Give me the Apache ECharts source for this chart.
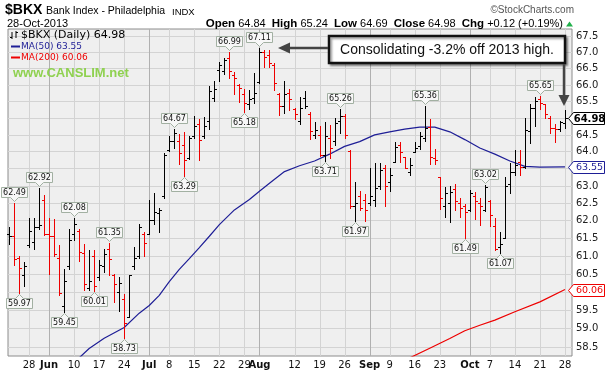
<!DOCTYPE html>
<html>
<head>
<meta charset="utf-8">
<script src="https://cdn.jsdelivr.net/npm/echarts@6/dist/echarts.min.js"></script>
<style>
  html, body { margin: 0; padding: 0; background: #fff; }
  #chart { width: 608px; height: 376px; }
</style>
</head>
<body>
<div id="chart"></div>
<script>
// daily bars, 21-May-2013 .. 28-Oct-2013 (index = trading day)
var opens = [61.60,61.55,60.93,60.45,61.30,61.40,61.80,62.60,61.60,61.55,
  60.95,59.60,60.70,61.60,61.70,61.08,60.10,61.00,60.40,60.70,
  61.20,60.45,60.00,59.80,59.30,60.70,61.00,61.60,61.60,62.00,
  62.20,62.70,64.05,64.30,64.30,64.20,63.80,64.45,64.80,64.45,
  64.90,65.60,66.45,66.40,66.80,66.30,66.00,65.70,65.40,65.60,
  66.07,67.00,66.90,66.60,65.72,65.35,65.75,65.25,64.90,65.60,
  65.10,64.50,64.50,63.90,64.40,64.30,64.90,65.05,64.00,62.40,
  62.70,62.60,62.50,62.60,63.00,63.50,63.10,63.70,64.20,63.85,
  63.40,63.98,64.15,64.40,64.73,63.80,63.25,62.40,62.50,62.90,
  62.50,62.40,62.30,62.70,62.50,62.30,62.55,61.85,61.25,61.50,
  63.05,63.40,63.70,63.55,64.60,65.30,65.55,65.40,65.00,64.70,
  64.65,64.84];
var highs = [61.82,62.49,61.00,60.83,62.07,62.07,62.92,62.72,62.07,62.05,
  61.31,60.64,61.75,62.08,61.75,61.33,61.15,61.15,60.88,61.20,
  61.35,60.50,60.41,59.93,60.47,61.25,61.90,61.68,62.60,62.78,
  62.35,63.94,64.45,64.67,64.52,64.58,64.47,65.04,64.95,65.02,
  65.95,66.10,66.70,66.80,66.99,66.38,66.03,65.87,65.85,66.35,
  67.11,67.06,67.06,66.65,65.75,66.12,65.87,65.30,65.63,65.80,
  65.18,64.86,64.75,64.86,64.78,64.98,65.26,65.10,64.05,63.10,
  62.85,62.75,63.50,63.65,63.65,63.60,63.50,64.28,64.28,63.85,
  63.80,64.28,64.58,65.36,64.95,64.08,63.25,62.97,63.00,63.05,
  62.65,62.48,62.88,62.83,62.65,63.02,62.60,62.08,61.68,63.25,
  63.65,64.03,64.03,64.98,65.40,65.62,65.65,65.40,65.05,64.82,
  64.90,65.24];
var lows = [61.34,60.74,59.97,60.17,61.25,61.20,61.77,61.58,60.49,60.99,
  59.92,59.45,60.64,61.45,60.85,60.06,60.06,60.01,60.33,60.55,
  60.47,59.72,59.48,58.73,59.30,60.64,60.93,60.98,61.60,61.90,
  61.67,62.64,64.00,64.10,63.63,63.29,63.77,64.40,63.75,64.40,
  64.67,65.50,66.10,66.33,66.20,65.72,65.48,65.18,65.27,65.45,
  66.05,66.54,66.55,65.85,65.08,65.15,65.22,64.95,64.80,65.30,
  64.36,64.40,63.86,63.71,63.80,64.20,64.54,64.40,62.35,61.97,
  62.30,61.98,62.45,62.40,62.90,62.40,62.85,63.70,63.70,63.50,
  63.30,63.98,64.08,64.30,63.62,63.62,62.33,62.10,61.95,62.30,
  62.10,61.49,62.27,62.03,61.87,62.27,61.85,61.15,61.07,61.50,
  62.80,63.30,63.30,63.50,64.25,64.75,65.25,65.00,64.54,64.28,
  64.60,64.69];
var closes = [61.55,60.92,60.65,60.70,61.70,61.80,61.88,61.60,61.55,61.05,
  59.97,60.30,61.45,61.90,61.10,60.22,60.30,60.15,60.74,61.05,
  60.90,60.20,60.25,59.13,60.45,60.93,61.80,61.35,62.00,62.25,
  62.30,63.90,64.30,64.55,63.95,63.75,64.40,64.75,64.35,64.75,
  65.80,65.88,66.60,66.75,66.40,66.20,65.90,65.45,65.55,65.75,
  67.00,66.85,66.65,66.05,65.35,65.70,65.55,65.10,65.30,65.35,
  64.60,64.62,63.90,64.45,64.10,64.85,65.05,64.50,62.40,62.50,
  62.35,62.30,62.70,62.93,63.45,63.00,63.30,64.13,63.98,63.50,
  63.60,64.10,64.46,64.68,63.85,63.75,62.65,62.80,62.82,62.55,
  62.35,62.25,62.80,62.55,62.40,62.95,62.15,61.20,61.33,63.00,
  63.40,63.60,63.55,64.62,65.30,65.50,65.45,65.10,64.68,64.65,
  64.86,64.98];

// moving averages (bar index, value)
var ma50Idx = [14,16,19,23,26,28,30,32,34,36,38,40,42,45,48,50,52,55,58,61,64,67,70,73,76,79,82,85,88,91,94,97,100,103,106,111];
var ma50Val = [58.20,58.45,58.73,59.02,59.41,59.62,59.90,60.28,60.62,60.92,61.23,61.55,61.88,62.30,62.60,62.84,63.07,63.41,63.58,63.72,63.92,64.15,64.29,64.49,64.58,64.66,64.72,64.72,64.58,64.35,64.10,63.92,63.72,63.56,63.54,63.55];
var ma200Idx = [80,84,88,91,94,97,101,106,111];
var ma200Val = [58.20,58.46,58.72,58.93,59.08,59.22,59.45,59.72,60.06];

// x axis labels
var tickIdx = [4,8,13,18,23,28,32,37,42,47,50,57,62,67,72,76,81,86,92,96,101,106,111];
var tickText = ['28','Jun','10','17','24','Jul','8','15','22','29','Aug','12','19','26','Sep','9','16','23','Oct','7','14','21','28'];
var monthIdx = [8,28,50,72,92];
var priceTicks = [58.5,59.0,59.5,60.0,60.5,61.0,61.5,62.0,62.5,63.0,63.5,64.0,64.5,65.0,65.5,66.0,66.5,67.0,67.5];

// bars that carry a high / low price flag
var peakIdx = [1,6,13,20,33,44,50,66,83,95,106];
var troughIdx = [2,11,17,23,35,47,63,69,91,98];

var X_MIN = -0.2, X_MAX = 112.4, Y_MIN = 58.25, Y_MAX = 67.71;
var FONT = 'DejaVu Sans';
var NAVY = '#1e1e96', RED = '#ee0000';

var ohlcData = closes.map(function (c, i) {
  var down = (i > 0 && c < closes[i - 1]) ? 1 : 0;
  return [i, opens[i], highs[i], lows[i], c, down];
});
var ma50Data = ma50Idx.map(function (d, k) { return [d, ma50Val[k]]; });
var ma200Data = ma200Idx.map(function (d, k) { return [d, ma200Val[k]]; });
var noteData = peakIdx.map(function (i) { return [i, highs[i], 1]; })
  .concat(troughIdx.map(function (i) { return [i, lows[i], 0]; }));
var last = closes.length - 1;
var tagData = [
  [X_MAX, closes[last], 0],
  [X_MAX, ma50Val[ma50Val.length - 1], 1],
  [X_MAX, ma200Val[ma200Val.length - 1], 2]
];

function renderHGrid(params, api) {
  var v = api.value(1);
  var a = api.coord([X_MIN, v]), b = api.coord([X_MAX, v]);
  var y = Math.round(a[1]) + 0.5;
  return {
    type: 'group',
    children: [
      { type: 'line', shape: { x1: a[0], y1: y, x2: b[0], y2: y }, style: { stroke: '#d3d3d3', lineWidth: 1 } },
      { type: 'text', x: b[0] + 4, y: y,
        style: { text: v.toFixed(1), fill: '#222', fontSize: 10, fontFamily: FONT,
                 align: 'left', verticalAlign: 'middle', textAlign: 'left', textVerticalAlign: 'middle' } }
    ]
  };
}

function renderVGrid(params, api) {
  var i = api.value(0);
  var a = api.coord([i, Y_MAX]), b = api.coord([i, Y_MIN]);
  var x = Math.round(a[0]) + 0.5;
  var isMonth = monthIdx.indexOf(i) >= 0;
  return { type: 'line', shape: { x1: x, y1: a[1], x2: x, y2: b[1] },
           style: { stroke: isMonth ? '#b0b0b0' : '#d3d3d3', lineWidth: 1 } };
}

function renderOHLC(params, api) {
  var i = api.value(0);
  var pO = api.coord([i, api.value(1)]);
  var pH = api.coord([i, api.value(2)]);
  var pL = api.coord([i, api.value(3)]);
  var pC = api.coord([i, api.value(4)]);
  var col = api.value(5) ? RED : '#000';
  var px = Math.round(pH[0]);
  var x = px + 0.5;
  var yo = Math.round(pO[1]) + 0.5, yc = Math.round(pC[1]) + 0.5;
  var st = { stroke: col, lineWidth: 1 };
  return {
    type: 'group',
    children: [
      { type: 'line', shape: { x1: x, y1: Math.round(pH[1]), x2: x, y2: Math.round(pL[1]) + 1 }, style: st },
      { type: 'line', shape: { x1: px - 2, y1: yo, x2: px, y2: yo }, style: st },
      { type: 'line', shape: { x1: px + 1, y1: yc, x2: px + 3, y2: yc }, style: st }
    ]
  };
}

function renderNote(params, api) {
  var i = api.value(0), v = api.value(1), up = api.value(2);
  var p = api.coord([i, v]);
  var x = Math.round(p[0]) + 0.5;
  var w = 26, h = 10, pw = 4, ph = 4;
  var tip, base, boxTop;
  if (up) {
    tip = Math.round(p[1]) - 1.5; base = tip - ph; boxTop = base - h;
  } else {
    tip = Math.round(p[1]) + 1.5; base = tip + ph; boxTop = base;
  }
  var far = up ? boxTop : boxTop + h;
  var pts = [[x - w / 2, far], [x + w / 2, far], [x + w / 2, base], [x + pw, base], [x, tip], [x - pw, base], [x - w / 2, base]];
  return {
    type: 'group',
    children: [
      { type: 'polygon', shape: { points: pts }, style: { fill: '#f7f7f7', stroke: '#a2b0a2', lineWidth: 1 } },
      { type: 'text', x: x, y: boxTop + h / 2 + 0.5,
        style: { text: v.toFixed(2), fill: '#111', fontSize: 8, fontFamily: FONT,
                 align: 'center', verticalAlign: 'middle', textAlign: 'center', textVerticalAlign: 'middle' } }
    ]
  };
}

function renderTag(params, api) {
  var v = api.value(1), k = api.value(2);
  var p = api.coord([api.value(0), v]);
  var col = [ '#000', NAVY, RED ][k];
  var x0 = Math.round(p[0]) - 3.5, y = Math.round(p[1]) + 0.5;
  var pts = [[x0, y], [x0 + 5, y - 6], [x0 + 36, y - 6], [x0 + 36, y + 6], [x0 + 5, y + 6]];
  return {
    type: 'group',
    children: [
      { type: 'polygon', shape: { points: pts }, style: { fill: '#fff', stroke: col, lineWidth: 1 } },
      { type: 'text', x: x0 + 21, y: y + 0.5,
        style: { text: v.toFixed(2), fill: col, fontSize: k === 0 ? 10 : 9.5, fontWeight: k === 0 ? 'bold' : 'normal',
                 fontFamily: FONT, align: 'center', verticalAlign: 'middle', textAlign: 'center', textVerticalAlign: 'middle' } }
    ]
  };
}

var chart = echarts.init(document.getElementById('chart'));
var option = {
  animation: false,
  backgroundColor: '#fff',
  grid: { show: true, left: 8, right: 36, top: 29, bottom: 20, backgroundColor: '#efefef', borderColor: '#8c8c8c', borderWidth: 1 },
  xAxis: {
    type: 'value', min: X_MIN, max: X_MAX,
    axisLine: { show: false }, axisTick: { show: false }, splitLine: { show: false },
    axisLabel: {
      customValues: tickIdx, margin: 4, color: '#111', fontSize: 10, fontFamily: FONT,
      formatter: function (v) {
        var k = tickIdx.indexOf(Math.round(v));
        if (k < 0) return '';
        return monthIdx.indexOf(tickIdx[k]) >= 0 ? '{m|' + tickText[k] + '}' : tickText[k];
      },
      rich: { m: { fontWeight: 'bold', fontSize: 10, fontFamily: FONT, color: '#111' } }
    }
  },
  yAxis: {
    type: 'log', position: 'right', min: Y_MIN, max: Y_MAX,
    axisLine: { show: false }, axisTick: { show: false }, axisLabel: { show: false }, splitLine: { show: false }
  },
  series: [
    { type: 'custom', name: 'hgrid', silent: true, z: 1, renderItem: renderHGrid,
      data: priceTicks.map(function (v) { return [X_MIN, v]; }), encode: { x: 0, y: 1 } },
    { type: 'custom', name: 'vgrid', silent: true, z: 1, renderItem: renderVGrid,
      data: tickIdx.map(function (i) { return [i, Y_MIN]; }), encode: { x: 0, y: 1 } },
    { type: 'line', name: 'MA(200)', data: ma200Data, showSymbol: false, silent: true, z: 2,
      lineStyle: { color: RED, width: 1.2 }, clip: true },
    { type: 'line', name: 'MA(50)', data: ma50Data, showSymbol: false, silent: true, z: 2,
      lineStyle: { color: NAVY, width: 1.2 }, clip: true },
    { type: 'custom', name: '$BKX', silent: true, z: 3, renderItem: renderOHLC,
      data: ohlcData, encode: { x: 0, y: [1, 2, 3, 4] } },
    { type: 'custom', name: 'flags', silent: true, z: 4, renderItem: renderNote,
      data: noteData, encode: { x: 0, y: 1 } },
    { type: 'custom', name: 'tags', silent: true, z: 6, renderItem: renderTag,
      data: tagData, encode: { x: 0, y: 1 } }
  ],
  graphic: [
    { type: 'text', x: 5, y: 3, z: 10, style: { text: '$BKX', fill: '#000', fontSize: 14, fontWeight: 'bold', fontFamily: 'Liberation Sans' } },
    { type: 'text', x: 46, y: 6, z: 10, style: { text: 'Bank Index - Philadelphia', fill: '#000', fontSize: 10.5, fontFamily: 'Liberation Sans' } },
    { type: 'text', x: 172, y: 7, z: 10, style: { text: 'INDX', fill: '#000', fontSize: 9.5, fontFamily: 'Liberation Sans' } },
    { type: 'text', x: 574, y: 5, z: 10, style: { text: '\u00a9StockCharts.com', fill: '#555', fontSize: 10, fontFamily: 'Liberation Sans', align: 'right', textAlign: 'right' } },
    { type: 'text', x: 7, y: 18, z: 10, style: { text: '28-Oct-2013', fill: '#000', fontSize: 11, fontFamily: 'Liberation Sans' } },
    { type: 'text', x: 563, y: 18, z: 10, style: {
        text: '{b|Open} 64.84  {b|High} 65.24  {b|Low} 64.69  {b|Close} 64.98  {b|Chg} +0.12 (+0.19%)',
        fill: '#000', fontSize: 11, fontFamily: 'Liberation Sans', align: 'right', textAlign: 'right',
        rich: { b: { fontWeight: 'bold', fontSize: 11.5, fontFamily: 'Liberation Sans', fill: '#000' } } } },
    { type: 'polygon', z: 10, shape: { points: [[566, 26.5], [573, 26.5], [569.5, 21.5]] }, style: { fill: '#22b14c' } },

    // legend inside the plot
    { type: 'polyline', z: 10, shape: { points: [[12, 32], [12, 39]] }, style: { stroke: '#000', lineWidth: 1 } },
    { type: 'polyline', z: 10, shape: { points: [[10, 37.5], [12, 37.5]] }, style: { stroke: '#000', lineWidth: 1 } },
    { type: 'polyline', z: 10, shape: { points: [[16, 31], [16, 38]] }, style: { stroke: '#000', lineWidth: 1 } },
    { type: 'polyline', z: 10, shape: { points: [[16, 32.5], [18, 32.5]] }, style: { stroke: '#000', lineWidth: 1 } },
    { type: 'text', x: 21, y: 35.5, z: 10, style: { text: '$BKX (Daily) ' + closes[last].toFixed(2), fill: '#000', fontSize: 11, fontFamily: FONT, verticalAlign: 'middle', textVerticalAlign: 'middle' } },
    { type: 'polyline', z: 10, shape: { points: [[11, 46.5], [20, 46.5]] }, style: { stroke: NAVY, lineWidth: 2 } },
    { type: 'text', x: 21, y: 46.5, z: 10, style: { text: 'MA(50) ' + ma50Val[ma50Val.length - 1].toFixed(2), fill: NAVY, fontSize: 9, fontFamily: FONT, verticalAlign: 'middle', textVerticalAlign: 'middle' } },
    { type: 'polyline', z: 10, shape: { points: [[11, 57.5], [20, 57.5]] }, style: { stroke: RED, lineWidth: 2 } },
    { type: 'text', x: 21, y: 57.5, z: 10, style: { text: 'MA(200) ' + ma200Val[ma200Val.length - 1].toFixed(2), fill: RED, fontSize: 9, fontFamily: FONT, verticalAlign: 'middle', textVerticalAlign: 'middle' } },
    { type: 'text', x: 13, y: 73.5, z: 10, style: { text: 'www.CANSLIM.net', fill: '#8fd150', fontSize: 13, fontWeight: 'bold', fontFamily: 'Liberation Sans', verticalAlign: 'middle', textVerticalAlign: 'middle' } },

    // callout
    { type: 'rect', z: 10, shape: { x: 329, y: 36, width: 236, height: 27 },
      style: { fill: '#fff', stroke: '#111', lineWidth: 2.5, shadowColor: 'rgba(0,0,0,0.35)', shadowBlur: 2, shadowOffsetX: 2, shadowOffsetY: 2 } },
    { type: 'text', x: 447, y: 50, z: 11, style: { text: 'Consolidating -3.2% off 2013 high.', fill: '#111', fontSize: 14, fontFamily: 'Liberation Sans', align: 'center', verticalAlign: 'middle', textAlign: 'center', textVerticalAlign: 'middle' } },
    { type: 'polyline', z: 10, shape: { points: [[328, 48], [288, 48]] }, style: { stroke: '#444', lineWidth: 2.5 } },
    { type: 'polygon', z: 10, shape: { points: [[278, 48], [290, 42.5], [290, 53.5]] }, style: { fill: '#444' } },
    { type: 'polyline', z: 10, shape: { points: [[564, 64], [564, 96]] }, style: { stroke: '#444', lineWidth: 2.5 } },
    { type: 'polygon', z: 10, shape: { points: [[558.5, 95], [569.5, 95], [564, 106]] }, style: { fill: '#444' } }
  ]
};
chart.setOption(option);
</script>
</body>
</html>
